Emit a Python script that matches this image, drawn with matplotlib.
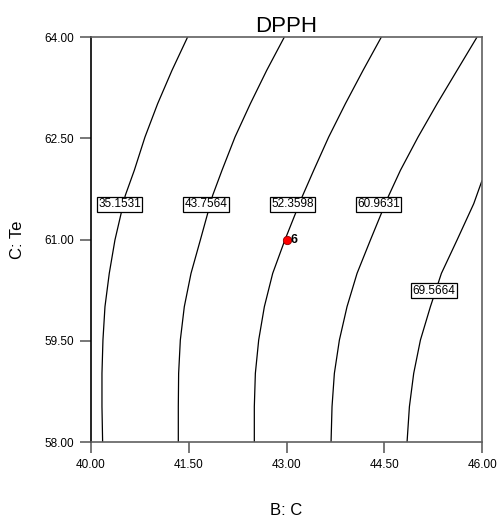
import numpy as np
import matplotlib
matplotlib.use('Agg')
import matplotlib.pyplot as plt

plt.rcParams['font.family'] = ['Liberation Sans', 'DejaVu Sans']

# contour levels and the lines (B: C, C: Te)
levels = [35.1531, 43.7564, 52.3598, 60.9631, 69.5664]

line1_b = [40.179, 40.169, 40.169, 40.184, 40.215, 40.281, 40.368, 40.527,
           40.665, 40.829, 41.023, 41.243, 41.483]
line1_c = [58.0, 58.524, 59.018, 59.511, 60.005, 60.499, 60.993, 61.654,
           62.025, 62.519, 63.012, 63.506, 64.0]

line2_b = [41.340, 41.340, 41.345, 41.371, 41.432, 41.535, 41.678, 41.867,
           42.010, 42.210, 42.445, 42.696, 42.967]
line2_c = [58.0, 58.524, 59.018, 59.511, 60.005, 60.499, 60.993, 61.654,
           62.025, 62.519, 63.012, 63.506, 64.0]

line3_b = [42.506, 42.506, 42.522, 42.573, 42.660, 42.788, 42.975, 43.238,
           43.417, 43.647, 43.903, 44.174, 44.455]
line3_c = [58.0, 58.524, 59.018, 59.511, 60.005, 60.499, 60.993, 61.63,
           62.025, 62.519, 63.012, 63.506, 64.0]

line4_b = [43.683, 43.698, 43.734, 43.811, 43.928, 44.082, 44.287, 44.558,
           44.747, 45.018, 45.310, 45.616, 45.923]
line4_c = [58.0, 58.524, 59.018, 59.511, 60.005, 60.499, 60.993, 61.63,
           62.025, 62.519, 63.012, 63.506, 64.0]

line5_b = [44.849, 44.885, 44.951, 45.054, 45.207, 45.376, 45.616, 45.872, 46.0]
line5_c = [58.0, 58.524, 59.018, 59.511, 60.005, 60.499, 60.993, 61.531, 61.877]

# where the level labels sit
label_b = [40.440, 41.762, 43.092, 44.412, 45.259]
label_c = [61.52, 61.52, 61.52, 61.52, 60.24]

# design point
point_b = [43.0]
point_c = [61.0]
point_lbl = ['6']

ticks_b = [40.0, 41.5, 43.0, 44.5, 46.0]
ticks_c = [58.0, 59.5, 61.0, 62.5, 64.0]


def graph():
    fig = plt.figure(figsize=(4.97, 5.25), dpi=100)
    ax = fig.add_axes([0.183, 0.158, 0.787, 0.7715])

    lines = [(line1_b, line1_c), (line2_b, line2_c), (line3_b, line3_c),
             (line4_b, line4_c), (line5_b, line5_c)]
    for xs, ys in lines:
        ax.plot(xs, ys, color='black', lw=0.9, solid_capstyle='butt')

    for lev, lb, lc in zip(levels, label_b, label_c):
        ax.text(lb, lc, '%.4f' % lev, fontsize=8.5, ha='center', va='center',
                bbox=dict(boxstyle='square,pad=0.12', fc='white', ec='black', lw=0.9),
                zorder=5)

    ax.scatter(point_b, point_c, s=36, color='red', edgecolors='#8b0000',
               linewidths=0.6, zorder=6)
    for pb, pc, t in zip(point_b, point_c, point_lbl):
        ax.annotate(t, (pb, pc), xytext=(3, 0), textcoords='offset points',
                    fontsize=9, fontweight='bold', va='center', ha='left', zorder=6)

    ax.set_xlim(40, 46)
    ax.set_ylim(58, 64)
    ax.set_xticks(ticks_b)
    ax.set_yticks(ticks_c)
    ax.set_xticklabels(['%.2f' % v for v in ticks_b])
    ax.set_yticklabels(['%.2f' % v for v in ticks_c])
    ax.tick_params(direction='out', length=8, width=1.2, color='#606060',
                   labelsize=8.5, pad=4)

    for s in ['top', 'right', 'bottom']:
        ax.spines[s].set_color('#606060')
        ax.spines[s].set_linewidth(1.2)
    ax.spines['left'].set_color('black')
    ax.spines['left'].set_linewidth(1.2)

    ax.set_title('DPPH', fontsize=16, pad=3)
    ax.set_xlabel('B: C', fontsize=12)
    ax.set_ylabel('C: Te', fontsize=12)
    ax.xaxis.set_label_coords(0.5, -0.170)
    ax.yaxis.set_label_coords(-0.187, 0.5)
    ax.xaxis.label.set_va('center')
    ax.yaxis.label.set_va('center')

    fig.savefig('out.png', dpi=100)


if __name__ == '__main__':
    graph()
